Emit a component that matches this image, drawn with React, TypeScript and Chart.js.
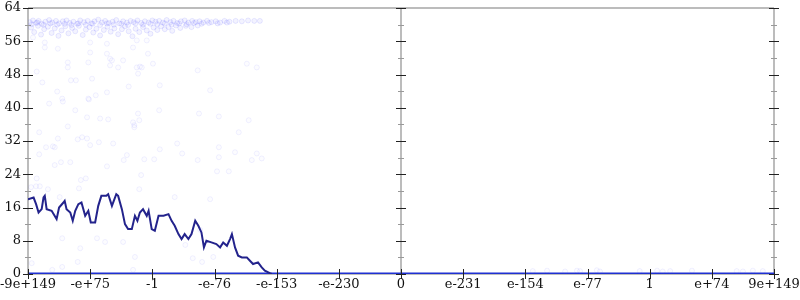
import React, { useEffect, useRef } from "react";
import { Chart, registerables } from "chart.js";

Chart.register(...registerables);

// X axis: evenly spaced symbolic ticks (value index -6..6)
const xTickLabels = ["-9e+149", "-e+75", "-1", "-e-76", "-e-153", "-e-230", "0", "e-231", "e-154", "e-77", "1", "e+74", "9e+149"];
const xTickValues = [-6, -5, -4, -3, -2, -1, 0, 1, 2, 3, 4, 5, 6];
const yMajorTicks = [0, 8, 16, 24, 32, 40, 48, 56, 64];
const yMinorTicks = [4, 12, 20, 28, 36, 44, 52, 60];

// Dark navy line series
const lineX = [-6.0, -5.91, -5.87, -5.83, -5.78, -5.75, -5.73, -5.7, -5.62, -5.54, -5.5, -5.43, -5.41, -5.38, -5.32, -5.28, -5.24, -5.19, -5.14, -5.08, -5.03, -4.99, -4.92, -4.87, -4.82, -4.74, -4.71, -4.65, -4.58, -4.55, -4.49, -4.44, -4.39, -4.33, -4.28, -4.24, -4.2, -4.15, -4.09, -4.06, -4.01, -3.96, -3.9, -3.82, -3.74, -3.69, -3.64, -3.58, -3.53, -3.48, -3.42, -3.37, -3.31, -3.26, -3.21, -3.17, -3.13, -3.05, -2.97, -2.91, -2.86, -2.8, -2.75, -2.72, -2.67, -2.62, -2.56, -2.48, -2.43, -2.38, -2.3, -2.24, -2.19, -2.11, -2.08];
const lineY = [18.0, 18.4, 16.8, 14.8, 15.6, 18.4, 18.8, 15.6, 15.2, 13.2, 16.0, 17.2, 17.6, 15.6, 14.8, 12.8, 15.2, 16.8, 17.2, 14.0, 15.2, 12.4, 12.4, 16.4, 18.8, 18.8, 19.2, 16.4, 19.2, 18.8, 15.6, 12.0, 10.8, 10.8, 14.0, 12.8, 14.8, 15.6, 14.0, 15.2, 10.8, 10.4, 14.0, 14.0, 14.4, 12.8, 11.6, 9.6, 8.4, 9.6, 8.4, 9.6, 12.8, 11.6, 10.0, 6.4, 8.0, 7.6, 7.2, 6.4, 7.6, 6.8, 8.4, 9.6, 6.4, 4.4, 4.0, 4.0, 3.2, 2.4, 2.8, 1.6, 0.8, 0.2, 0.0];

// Constant zero series (bright blue)
const zeroX = [-6, 6];
const zeroY = [0, 0];

// Faint scatter cloud: dense band near the top
const bandX = [-5.97, -5.92, -5.87, -5.83, -5.78, -5.72, -5.66, -5.61, -5.55, -5.5, -5.44, -5.38, -5.33, -5.27, -5.21, -5.16, -5.1, -5.04, -4.98, -4.93, -4.87, -4.81, -4.76, -4.7, -4.64, -4.58, -4.53, -4.47, -4.41, -4.35, -4.3, -4.24, -4.18, -4.12, -4.06, -4.0, -3.95, -3.89, -3.83, -3.77, -3.71, -3.66, -3.6, -3.54, -3.48, -3.42, -3.36, -3.3, -3.24, -3.18, -3.12, -3.05, -2.98, -2.91, -2.84, -2.76, -2.66, -2.56, -2.46, -2.36, -2.27,
  -5.95, -5.9, -5.84, -5.79, -5.74, -5.68, -5.62, -5.57, -5.51, -5.46, -5.4, -5.35, -5.29, -5.24, -5.18, -5.12, -5.07, -5.01, -4.95, -4.9, -4.84, -4.78, -4.72, -4.67, -4.61, -4.55, -4.49, -4.44, -4.38, -4.32, -4.27, -4.21, -4.15, -4.09, -4.03, -3.98, -3.92, -3.86, -3.8, -3.74, -3.68, -3.62, -3.55, -3.46, -3.37, -3.27,
  -5.94, -5.85, -5.75, -5.64, -5.53, -5.41, -5.3, -5.19, -5.07, -4.96, -4.84, -4.73, -4.62, -4.5, -4.39, -4.27, -4.15, -4.03, -3.92, -3.8, -3.69, -3.57, -3.45, -3.33, -3.21, -3.09, -2.95, -2.8];
const bandY = [60.6, 61.0, 60.4, 60.9, 60.2, 60.7, 61.1, 60.5, 60.9, 60.3, 60.8, 61.0, 60.4, 60.7, 60.2, 61.0, 60.6, 60.9, 60.3, 60.8, 61.2, 60.5, 60.9, 60.4, 60.7, 61.1, 60.3, 60.8, 60.5, 60.9, 60.6, 61.0, 60.4, 60.8, 60.5, 61.0, 60.7, 60.9, 60.5, 61.1, 60.6, 60.9, 60.4, 60.8, 61.0, 60.5, 60.9, 60.6, 60.8, 60.5, 60.9, 60.6, 60.8, 60.5, 60.9, 60.7, 60.9, 60.8, 61.0, 60.9, 60.9,
  59.3, 58.2, 59.7, 57.6, 58.9, 59.5, 58.0, 59.1, 57.3, 58.6, 59.6, 57.9, 59.2, 58.4, 59.7, 57.5, 58.8, 59.4, 58.1, 59.0, 57.4, 58.7, 59.5, 58.3, 59.1, 57.7, 58.9, 59.6, 58.4, 57.2, 59.0, 58.2, 59.4, 58.6, 57.8, 59.3, 58.7, 59.6, 58.9, 59.4, 58.5, 59.8, 59.2, 59.7, 59.4, 59.8,
  60.1, 60.5, 60.0, 60.3, 60.0, 60.2, 59.9, 60.3, 60.0, 60.2, 59.9, 60.3, 60.0, 60.2, 59.9, 60.3, 60.0, 60.2, 60.1, 60.3, 60.0, 60.3, 60.1, 60.4, 60.2, 60.4, 60.3, 60.5];

// Faint scatter cloud: sparse points below the band and near zero on the right
const sparseX = [-5.92, -5.73, -5.52, -5.0, -4.73, -4.73, -4.68, -4.25, -4.09, -4.31, -4.07, -5.73, -5.0,
  -5.36, -5.03, -4.65, -4.47, -3.99, -2.48, -2.32, -5.36, -4.68, -4.55, -4.25, -4.2, -4.17, -5.86, -3.27, -4.23,
  -5.77, -5.31, -5.23, -4.97, -4.38, -3.88, -3.07, -5.53, -4.73, -4.91, -5.02, -5.44, -5.66, -5.45, -5.03,
  -5.24, -3.89, -4.23, -3.25, -2.93, -5.05, -4.84, -4.71, -4.21, -4.31, -2.45, -5.36, -4.29, -4.29,
  -5.82, -2.61, -5.52, -5.2, -5.13, -5.05, -4.86, -4.63, -5.0, -3.6, -5.71, -5.6, -5.57, -3.88, -2.93,
  -5.82, -4.41, -3.52, -2.67, -2.32, -4.46, -4.13, -3.97, -2.93, -3.27, -2.4, -2.24, -5.47, -5.32, -5.57, -4.73,
  -2.96, -2.77, -4.18, -5.86, -5.07, -5.15, -5.95, -5.87, -5.81, -5.68, -5.18, -4.21, -5.49, -3.64, -3.07,
  -5.45, -5.16, -4.89, -4.76, -4.47, -4.28, -5.94, -5.61, -5.2, -5.45, -4.31, -3.2, -3.02, -3.35, -3.47, -3.23,
  2.12, 2.35, 2.64, 2.83, 2.88, 3.15, 3.2, 3.84, 4.12, 4.21, 4.33, 4.68, 5.4, 5.5, 5.66, 5.82];
const sparseY = [56.9, 55.7, 54.2, 55.7, 55.4, 53.0, 51.8, 56.2, 56.2, 54.5, 53.0, 54.5, 53.3,
  50.9, 50.9, 51.4, 51.4, 50.6, 50.6, 49.7, 49.7, 50.2, 49.7, 49.7, 49.9, 49.7, 48.7, 49.0, 48.2,
  46.1, 46.6, 46.6, 47.0, 45.1, 45.4, 44.2, 43.9, 43.7, 43.0, 42.0, 41.5, 41.0, 42.2, 42.2,
  39.4, 39.4, 38.6, 38.6, 37.9, 37.7, 37.4, 37.2, 37.0, 36.5, 37.0, 35.5, 35.8, 35.3,
  34.1, 34.1, 32.6, 32.4, 32.9, 32.6, 31.7, 31.4, 31.0, 31.4, 30.5, 30.7, 30.5, 30.0, 30.5,
  28.8, 28.6, 29.0, 29.3, 29.0, 27.4, 27.6, 27.6, 28.1, 27.4, 27.4, 27.8, 26.9, 26.9, 26.2, 25.9,
  24.7, 24.7, 23.8, 23.0, 23.0, 22.6, 20.9, 21.1, 21.1, 20.4, 20.6, 20.4, 18.5, 18.5, 18.0,
  8.6, 6.2, 8.6, 7.7, 7.7, 4.1, 2.6, 1.0, 2.9, 1.7, 1.0, 2.9, 4.1, 3.8, 7.0, 10.6,
  0.7, 0.8, 0.6, 0.8, 0.7, 0.9, 0.6, 0.7, 0.8, 0.6, 0.7, 0.8, 0.7, 0.6, 0.8, 0.7];

const FONT = { family: "'DejaVu Serif', serif", size: 13 };

const zip = (xs: number[], ys: number[]) => xs.map((x, i) => ({ x, y: ys[i] }));

const axesPlugin = {
  id: "crossAxes",
  beforeDatasetsDraw(chart: any) {
    const { ctx, chartArea: a, scales } = chart;
    const xs = scales.x;
    const xm = Math.round(xs.getPixelForValue(0));
    ctx.save();
    ctx.strokeStyle = "#bcbcbc";
    ctx.lineWidth = 2;
    ctx.beginPath();
    ctx.moveTo(a.left, a.top);
    ctx.lineTo(a.right, a.top);
    ctx.moveTo(a.left, a.bottom);
    ctx.lineTo(a.right, a.bottom);
    for (const px of [a.left, xm, a.right]) {
      ctx.moveTo(px, a.top);
      ctx.lineTo(px, a.bottom);
    }
    ctx.stroke();
    ctx.restore();
  },
  afterDatasetsDraw(chart: any) {
    const { ctx, chartArea: a, scales } = chart;
    const xs = scales.x;
    const ys = scales.y;
    const xm = Math.round(xs.getPixelForValue(0));
    ctx.save();
    ctx.lineWidth = 1;
    for (const px of [a.left, xm, a.right]) {
      ctx.strokeStyle = "#999";
      ctx.beginPath();
      for (const v of yMinorTicks) {
        const py = Math.round(ys.getPixelForValue(v)) + 0.5;
        ctx.moveTo(px - 3, py);
        ctx.lineTo(px + 3, py);
      }
      ctx.stroke();
      ctx.strokeStyle = "#222";
      ctx.beginPath();
      for (const v of yMajorTicks) {
        const py = Math.round(ys.getPixelForValue(v)) + 0.5;
        ctx.moveTo(px - 5, py);
        ctx.lineTo(px + 5, py);
      }
      ctx.stroke();
    }
    ctx.strokeStyle = "#222";
    ctx.beginPath();
    for (const v of xTickValues) {
      const px = Math.round(xs.getPixelForValue(v)) + 0.5;
      ctx.moveTo(px, a.bottom - 5);
      ctx.lineTo(px, a.bottom + 5);
    }
    ctx.stroke();
    ctx.restore();
  },
};

export default function App() {
  const ref = useRef<HTMLCanvasElement | null>(null);

  useEffect(() => {
    document.body.style.margin = "0";
    const canvas = ref.current;
    if (!canvas) return;
    const chart = new Chart(canvas, {
      type: "scatter",
      data: {
        datasets: [
          {
            label: "band",
            data: zip(bandX, bandY),
            pointRadius: 2.5,
            pointBackgroundColor: "rgba(80,80,255,0.07)",
            pointBorderColor: "rgba(80,80,255,0.12)",
            pointBorderWidth: 1,
            showLine: false,
          },
          {
            label: "sparse",
            data: zip(sparseX, sparseY),
            pointRadius: 2.5,
            pointBackgroundColor: "rgba(80,80,255,0.02)",
            pointBorderColor: "rgba(80,80,255,0.08)",
            pointBorderWidth: 1,
            showLine: false,
          },
          {
            label: "median",
            data: zip(lineX, lineY),
            showLine: true,
            borderColor: "#23238c",
            borderWidth: 2,
            pointRadius: 0,
            tension: 0,
            fill: false,
          },
          {
            label: "zero",
            data: zip(zeroX, zeroY),
            showLine: true,
            borderColor: "#1f30d2",
            borderWidth: 3,
            pointRadius: 0,
            tension: 0,
            fill: false,
          },
        ],
      },
      options: {
        animation: false,
        responsive: false,
        events: [],
        layout: { autoPadding: false, padding: { left: 0, right: 26, top: 8, bottom: 0 } },
        plugins: { legend: { display: false }, tooltip: { enabled: false } },
        scales: {
          x: {
            type: "linear",
            min: -6,
            max: 6,
            grid: { display: false, drawTicks: false },
            border: { display: false },
            afterFit: (s: any) => {
              s.height = 26;
              s.paddingLeft = 0;
              s.paddingRight = 0;
              s.paddingTop = 0;
              s.paddingBottom = 0;
            },
            afterBuildTicks: (s: any) => {
              s.ticks = xTickValues.map((v) => ({ value: v }));
            },
            ticks: {
              autoSkip: false,
              maxRotation: 0,
              padding: 3,
              color: "#111",
              font: FONT,
              callback: (v: any) => xTickLabels[xTickValues.indexOf(Number(v))] ?? "",
            },
          },
          y: {
            type: "linear",
            min: 0,
            max: 64,
            grid: { display: false, drawTicks: false },
            border: { display: false },
            afterFit: (s: any) => {
              s.width = 28;
              s.paddingLeft = 0;
              s.paddingRight = 0;
              s.paddingTop = 0;
              s.paddingBottom = 0;
            },
            afterBuildTicks: (s: any) => {
              s.ticks = yMajorTicks.map((v) => ({ value: v }));
            },
            ticks: {
              padding: 7,
              color: "#111",
              font: FONT,
            },
          },
        },
      },
      plugins: [axesPlugin],
    });
    return () => chart.destroy();
  }, []);

  return <canvas ref={ref} width={800} height={300} style={{ display: "block" }} />;
}
